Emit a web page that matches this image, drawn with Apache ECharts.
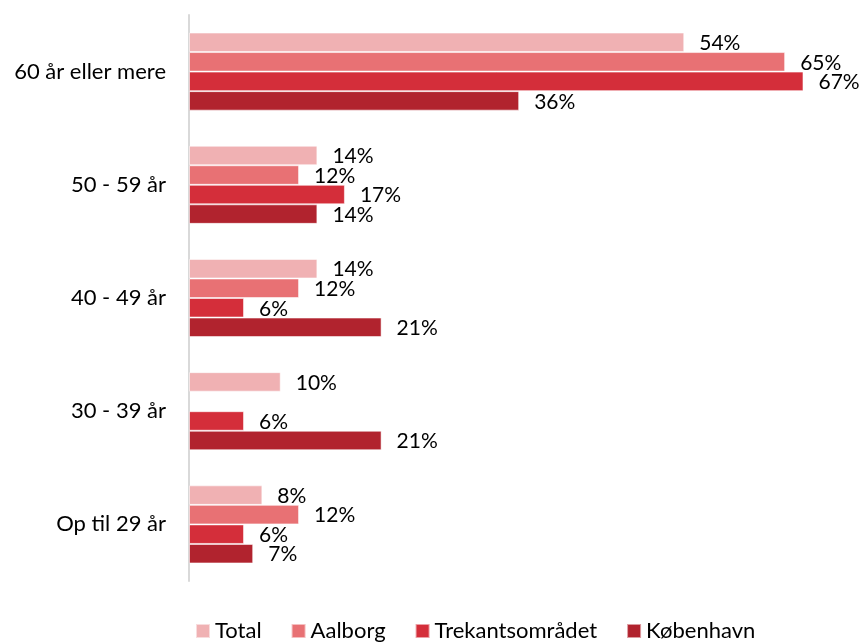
<!DOCTYPE html>
<html><head><meta charset="utf-8">
<script src="https://cdn.jsdelivr.net/npm/echarts@6/dist/echarts.min.js"></script>
<style>html,body{margin:0;padding:0;background:#fff}#c{width:863px;height:642px}</style>
</head><body><div id="c"></div>
<script>
const categories = ["Op til 29 år", "30 - 39 år", "40 - 49 år", "50 - 59 år", "60 år eller mere"];
const seriesNames = ["Total", "Aalborg", "Trekantsområdet", "København"];
const total = [8, 10, 14, 14, 54];
const aalborg = [12, null, 12, 12, 65];
const trekant = [6, 6, 6, 17, 67];
const kobenhavn = [7, 21, 21, 14, 36];
const colors = ["#f0b1b3", "#e87174", "#d42e3a", "#b1232e"];

const FONT = "Lato";
const values = [total, aalborg, trekant, kobenhavn];
const chart = echarts.init(document.getElementById('c'));
chart.setOption({
  animation: false,
  textStyle: {fontFamily: FONT},
  grid: {left: 189, right: 32, top: 15, bottom: 61, containLabel: false},
  legend: {
    top: 615, left: 190, itemWidth: 14, itemHeight: 14, itemGap: 29,
    icon: 'rect',
    textStyle: {fontFamily: FONT, fontSize: 22, color: '#000'},
    data: seriesNames
  },
  xAxis: {type: 'value', min: 0, max: 70, show: false},
  yAxis: {
    type: 'category', data: categories,
    axisLine: {show: true, lineStyle: {color: '#d9d9d9', width: 2}},
    axisTick: {show: false},
    axisLabel: {fontFamily: FONT, fontSize: 22, color: '#000', margin: 23}
  },
  series: seriesNames.map((n, i) => ({
    name: n, type: 'bar', data: values[i].slice(),
    barGap: '0%', barCategoryGap: '31%',
    z: 2 + i,
    itemStyle: {color: colors[i], borderColor: 'rgba(255,255,255,0.55)', borderWidth: 1},
    label: {show: true, position: 'right', distance: 15, offset: [0, 1],
      fontFamily: FONT, fontSize: 21, color: '#000',
      formatter: p => p.value == null ? '' : p.value + '%'}
  }))
});
</script></body></html>
